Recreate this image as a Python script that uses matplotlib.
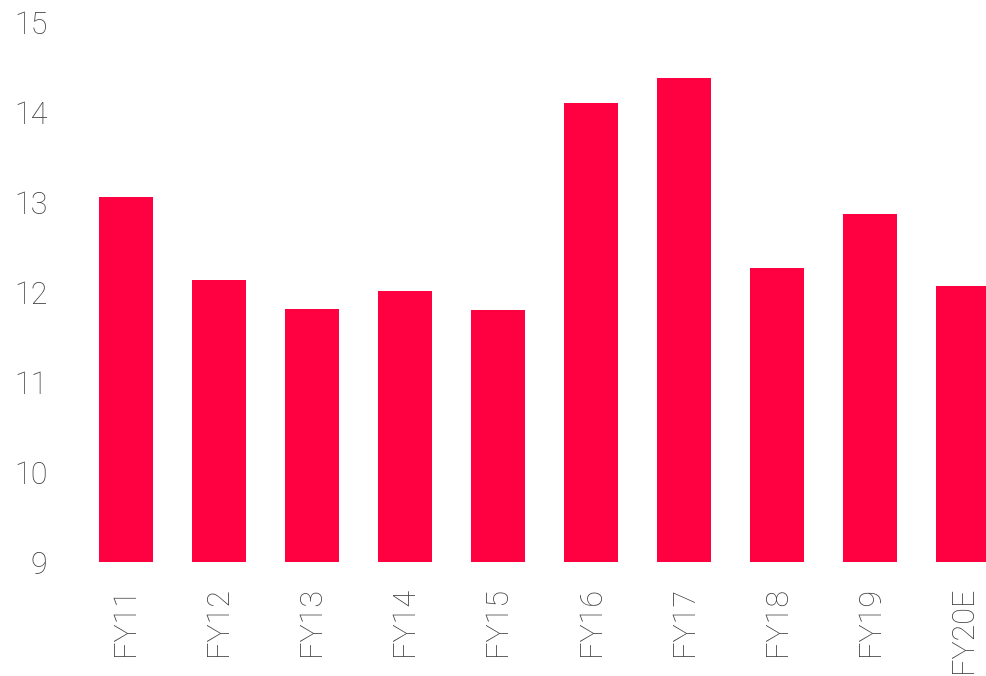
import matplotlib.pyplot as plt

years = ["FY11", "FY12", "FY13", "FY14", "FY15", "FY16", "FY17", "FY18", "FY19", "FY20E"]
values = [13.06, 12.13, 11.81, 12.01, 11.80, 14.10, 14.38, 12.27, 12.87, 12.07]

plt.rcParams['font.family'] = ['Roboto', 'DejaVu Sans']

fig = plt.figure(figsize=(9.86, 6.76), dpi=100)
ax = fig.add_axes([99 / 986, 1 - 562 / 676, 1 - 99 / 986, 540 / 676])

x = range(len(years))
ax.bar(x, values, width=0.58, color="#ff0040")

ax.set_ylim(9, 15)
ax.set_xlim(-0.29, 9.247)
ax.set_yticks(range(9, 16))
ax.set_xticks(list(x))
ax.set_xticklabels(years, rotation=90)

for s in ax.spines.values():
    s.set_visible(False)
ax.tick_params(axis="y", length=0, pad=37, labelsize=22, labelcolor="#404040")
ax.tick_params(axis="x", length=0, pad=18, labelsize=22, labelcolor="#404040")
for lab in ax.get_xticklabels() + ax.get_yticklabels():
    lab.set_fontweight("light")

fig.savefig("out.png", dpi=100)
